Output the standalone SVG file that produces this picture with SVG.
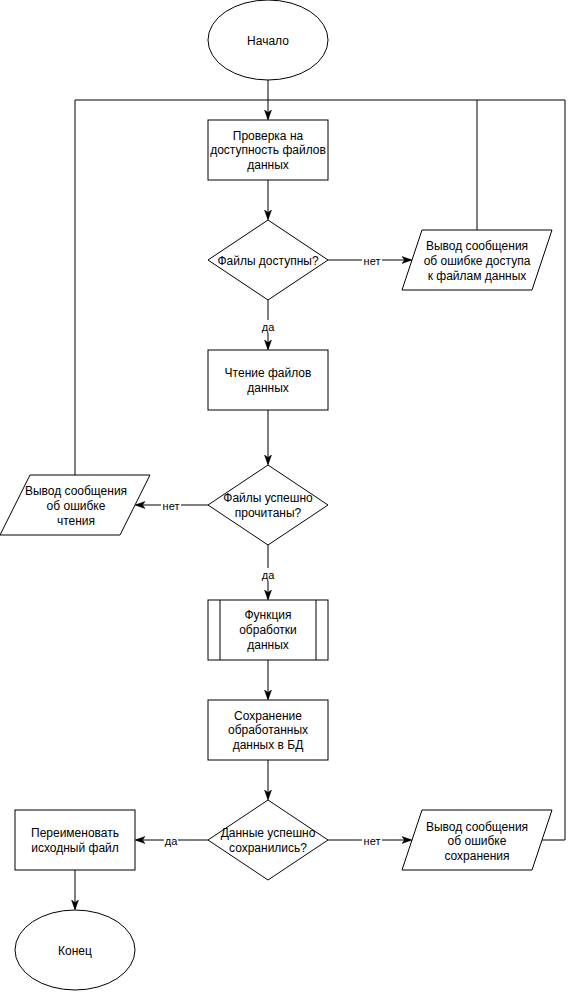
<svg xmlns="http://www.w3.org/2000/svg" width="574" height="992" viewBox="0 0 574 992">
<style>
.s{fill:#fff;stroke:#000;stroke-width:1}
.c{fill:none;stroke:#000;stroke-width:1}
text{font-family:"Liberation Sans",Arial,sans-serif;font-size:12px;fill:#000;text-anchor:middle}
.l{font-size:11px}
.bg{fill:#fff;stroke:none}
</style>
<defs>
<marker id="a" viewBox="0 0 10 10" refX="9" refY="5" markerWidth="10" markerHeight="10" markerUnits="userSpaceOnUse" orient="auto">
<path d="M0,1.5 L10,5 L0,8.5 L2.5,5 Z" fill="#000" stroke="#000" stroke-width="0.5"/>
</marker>
</defs>
<g id="connectors">
<path class="c" d="M268,80 V119" marker-end="url(#a)"/>
<path class="c" d="M268,180 V219" marker-end="url(#a)"/>
<path class="c" d="M328,260 H411" marker-end="url(#a)"/>
<path class="c" d="M477,230 V100 H75"/>
<path class="c" d="M268,300 V349" marker-end="url(#a)"/>
<path class="c" d="M268,410 V464" marker-end="url(#a)"/>
<path class="c" d="M208,505 H136" marker-end="url(#a)"/>
<path class="c" d="M75,475 V100"/>
<path class="c" d="M268,545 V599" marker-end="url(#a)"/>
<path class="c" d="M268,660 V699" marker-end="url(#a)"/>
<path class="c" d="M268,760 V799" marker-end="url(#a)"/>
<path class="c" d="M208,840 H136" marker-end="url(#a)"/>
<path class="c" d="M328,840 H411" marker-end="url(#a)"/>
<path class="c" d="M542,840 H565 V100 H477"/>
<path class="c" d="M75,870 V909" marker-end="url(#a)"/>
<rect class="bg" x="362" y="254" width="20" height="13"/>
<text class="l" x="372" y="265">нет</text>
<rect class="bg" x="261" y="320" width="14" height="13"/>
<text class="l" x="268" y="331">да</text>
<rect class="bg" x="161" y="499" width="20" height="13"/>
<text class="l" x="171" y="510">нет</text>
<rect class="bg" x="261" y="568" width="14" height="13"/>
<text class="l" x="268" y="579">да</text>
<rect class="bg" x="164" y="834" width="14" height="13"/>
<text class="l" x="171" y="845">да</text>
<rect class="bg" x="362" y="834" width="20" height="13"/>
<text class="l" x="372" y="845">нет</text>
</g>
<g id="start">
<ellipse class="s" cx="268" cy="40" rx="60" ry="40"/>
<text x="268" y="45">Начало</text>
</g>
<g id="check">
<rect class="s" x="208" y="120" width="120" height="60"/>
<text x="268" y="140">Проверка на</text>
<text x="268" y="154">доступность файлов</text>
<text x="268" y="169">данных</text>
</g>
<g id="dec1">
<path class="s" d="M268,220 L328,260 L268,300 L208,260 Z"/>
<text x="268" y="265">Файлы доступны?</text>
</g>
<g id="err1">
<path class="s" d="M422,230 H552 L532,290 H402 Z"/>
<text x="477" y="250">Вывод сообщения</text>
<text x="477" y="265">об ошибке доступа</text>
<text x="477" y="280">к файлам данных</text>
</g>
<g id="read">
<rect class="s" x="208" y="350" width="120" height="60"/>
<text x="268" y="377">Чтение файлов</text>
<text x="268" y="392">данных</text>
</g>
<g id="dec2">
<path class="s" d="M268,465 L328,505 L268,545 L208,505 Z"/>
<text x="268" y="502">Файлы успешно</text>
<text x="268" y="517">прочитаны?</text>
</g>
<g id="err2">
<path class="s" d="M30,475 H150 L120,535 H0 Z"/>
<text x="76" y="495">Вывод сообщения</text>
<text x="76" y="510">об ошибке</text>
<text x="76" y="525">чтения</text>
</g>
<g id="func">
<rect class="s" x="208" y="600" width="120" height="60"/>
<path class="c" d="M220,600 V660 M316,600 V660"/>
<text x="268" y="619">Функция</text>
<text x="268" y="634">обработки</text>
<text x="268" y="649">данных</text>
</g>
<g id="save">
<rect class="s" x="208" y="700" width="120" height="60"/>
<text x="268" y="720">Сохранение</text>
<text x="268" y="734">обработанных</text>
<text x="268" y="749">данных в БД</text>
</g>
<g id="dec3">
<path class="s" d="M268,800 L328,840 L268,880 L208,840 Z"/>
<text x="268" y="837">Данные успешно</text>
<text x="268" y="852">сохранились?</text>
</g>
<g id="err3">
<path class="s" d="M422,810 H552 L532,870 H402 Z"/>
<text x="477" y="831">Вывод сообщения</text>
<text x="477" y="845">об ошибке</text>
<text x="477" y="860">сохранения</text>
</g>
<g id="rename">
<rect class="s" x="15" y="810" width="120" height="60"/>
<text x="75" y="837">Переименовать</text>
<text x="75" y="852">исходный файл</text>
</g>
<g id="end">
<ellipse class="s" cx="75" cy="950" rx="60" ry="40"/>
<text x="75" y="955">Конец</text>
</g>
</svg>
